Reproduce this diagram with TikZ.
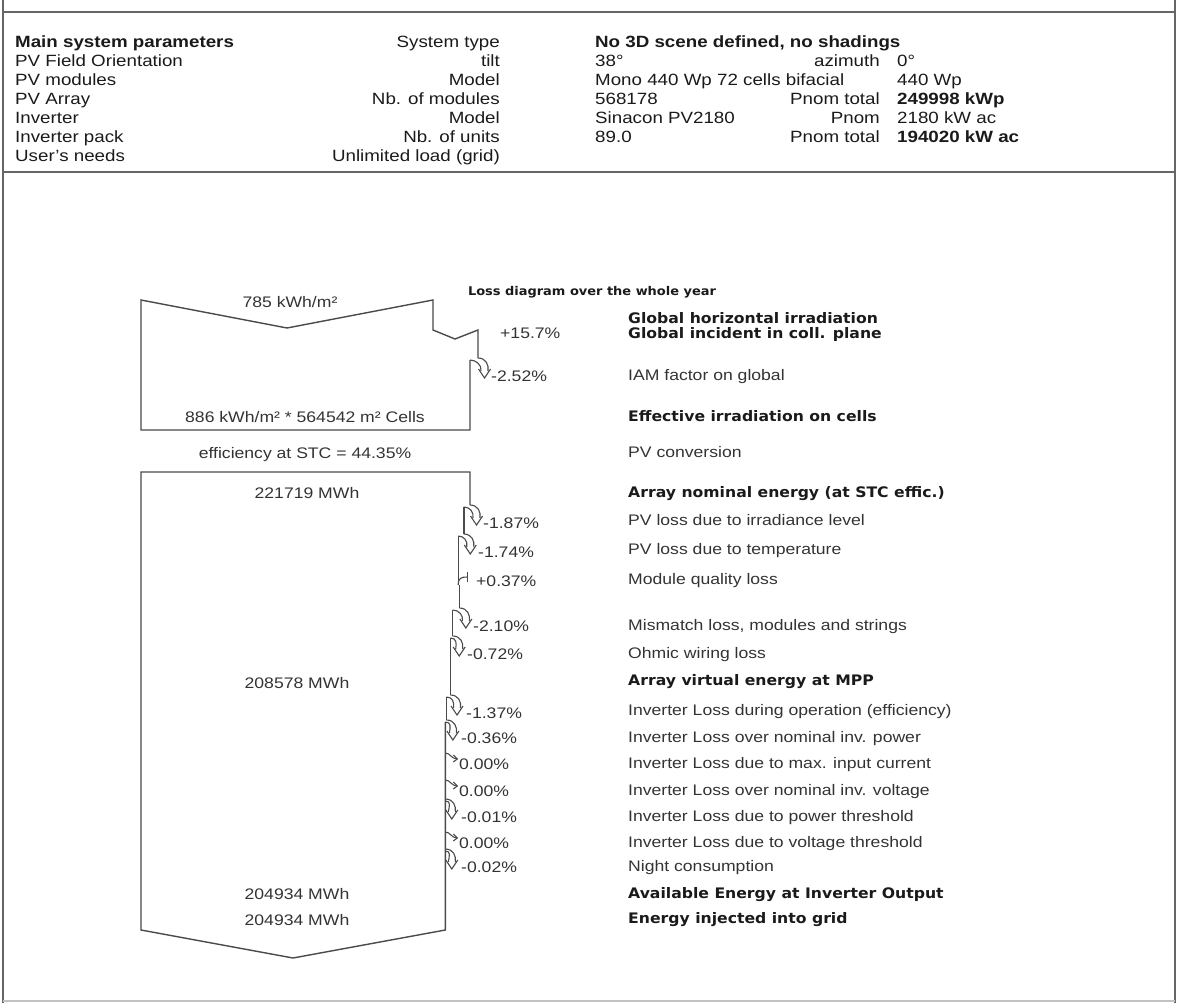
\documentclass[tikz,border=0pt]{standalone}
\usepackage{fontspec}
\setmainfont{Liberation Sans}[FakeStretch=1.15]
\newfontfamily\dvs{DejaVu Sans}[FakeStretch=1.08]
\definecolor{txt}{HTML}{1A1A1A}
\definecolor{ltxt}{HTML}{333333}
\definecolor{ln}{HTML}{4A4A4A}
\definecolor{fr}{HTML}{666666}
\newcommand\losshook[3]{%
 \draw[hk] ({#1},{#3-17}) .. controls ({#1+8},{#3-17}) and ({#1+11},{#3-10}) .. ({#1+10},{#3-4});
 \draw[hk] ({#2},{#3-15}) .. controls ({#2+6},{#3-15}) and ({#1+4},{#3-10}) .. ({#1+3},{#3-4});
 \draw[hk] ({#1+12.5},{#3-6}) -- ({#1+6.5},{#3+3}) -- ({#1+0.5},{#3-6});
}
\newcommand\zerohook[2]{%
 \draw[hk] ({#1},{#2-10}) .. controls ({#1+5},{#2-10}) and ({#1+6},{#2-4}) .. ({#1+12},{#2-4});
 \draw[hk] ({#1+8},{#2-8}) -- ({#1+12},{#2-4}) -- ({#1+8},{#2-1});
}
\newcommand\gainhook[2]{%
 \draw[hk] ({#1},{#2+5}) .. controls ({#1},{#2-2}) and ({#1+3},{#2-3}) .. ({#1+9},{#2-3});
 \draw[hk] ({#1+9},{#2-8}) -- ({#1+9},{#2+2});
}
\begin{document}
\begin{tikzpicture}[x=1pt,y=-1pt,
  pl/.style={anchor=base west, inner sep=0pt, font=\fontsize{16.3}{19}\selectfont, text=txt},
  pr/.style={anchor=base east, inner sep=0pt, font=\fontsize{16.3}{19}\selectfont, text=txt},
  pb/.style={anchor=base west, inner sep=0pt, font=\fontsize{16.3}{19}\selectfont\bfseries, text=txt},
  lreg/.style={anchor=base west, inner sep=0pt, font=\fontsize{15.3}{18}\selectfont, text=ltxt},
  lbold/.style={anchor=base west, inner sep=0pt, font=\dvs\bfseries\fontsize{14.5}{17}\selectfont, text=txt},
  ltitle/.style={anchor=base, inner sep=0pt, font=\dvs\bfseries\fontsize{12}{14}\selectfont, text=txt},
  boxtxt/.style={anchor=base, inner sep=0pt, font=\fontsize{15.3}{18}\selectfont, text=ltxt},
  band/.style={draw=ln, line width=1.4pt, line join=miter},
  frame/.style={draw=fr, line width=1.4pt},
  hk/.style={draw=ln, line width=1.1pt}
]
\useasboundingbox (0,0) rectangle (1178,1003);
% frame
\draw[frame] (3,0) -- (3,1003);
\draw[frame] (1175,0) -- (1175,1003);
\draw[frame] (3,12) -- (1175,12);
\draw[frame] (3,172) -- (1175,172);
\draw[draw=fr!40, line width=1.2pt] (3,1001) -- (1175,1001);

% parameters
\node[pb] (h0) at (15,48) {Main system parameters};
\node[pl] (h1) at (15,67) {PV Field Orientation};
\node[pl] (h2) at (15,86) {PV modules};
\node[pl] (h3) at (15,105) {PV Array};
\node[pl] (h4) at (15,124) {Inverter};
\node[pl] (h5) at (15,143) {Inverter pack};
\node[pl] (h6) at (15,162) {User's needs};

\node[pr] (k0) at (500,48) {System type};
\node[pr] (k1) at (500,67) {tilt};
\node[pr] (k2) at (500,86) {Model};
\node[pr] (k3) at (500,105) {Nb. of modules};
\node[pr] (k4) at (500,124) {Model};
\node[pr] (k5) at (500,143) {Nb. of units};
\node[pr] (k6) at (500,162) {Unlimited load (grid)};

\node[pb] (v0) at (595,48) {No 3D scene defined, no shadings};
\node[pl] (v1) at (595,67) {38°};
\node[pl] (v2) at (595,86) {Mono 440 Wp 72 cells bifacial};
\node[pl] (v3) at (595,105) {568178};
\node[pl] (v4) at (595,124) {Sinacon PV2180};
\node[pl] (v5) at (595,143) {89.0};

\node[pr] (q1) at (880,67) {azimuth};
\node[pr] (q3) at (880,105) {Pnom total};
\node[pr] (q4) at (880,124) {Pnom};
\node[pr] (q5) at (880,143) {Pnom total};

\node[pl] (w1) at (897,67) {0°};
\node[pl] (w2) at (897,86) {440 Wp};
\node[pb] (w3) at (897,105) {249998 kWp};
\node[pl] (w4) at (897,124) {2180 kW ac};
\node[pb] (w5) at (897,143) {194020 kW ac};

% loss diagram title
\node[ltitle] (title) at (592,295) {Loss diagram over the whole year};

% upper irradiation box
\draw[band] (478,358) -- (478,330) -- (455,339) -- (433,330) -- (433,300) -- (287,328) -- (141,300) -- (141,430) -- (470,430) -- (470,360);
\losshook{478}{470}{375}

% lower energy band
\draw[band] (470,505) -- (470,472) -- (141,472) -- (141,930) -- (293,958) -- (445.3,930) -- (445.3,722);
\draw[band] (463.8,507) -- (463.8,534);
\draw[band] (458.2,536) -- (458.2,585);
\draw[band] (459.4,585) -- (459.4,608);
\draw[band] (452.7,610) -- (452.7,636);
\draw[band] (450.5,638) -- (450.5,695);
\draw[band] (446.4,697) -- (446.4,720);
\losshook{470}{463.8}{522}
\losshook{463.8}{458.2}{551}
\gainhook{458.2}{580}
\losshook{459.4}{452.7}{625}
\losshook{452.7}{450.5}{653}
\losshook{450.5}{446.4}{712}
\losshook{446.4}{445.3}{737}
\zerohook{445.3}{763}
\zerohook{445.3}{790}
\losshook{445.3}{445.3}{816}
\zerohook{445.3}{842}
\losshook{445.3}{445.2}{866}

% box texts
\node[boxtxt] (b1) at (290,307) {785 kWh/m²};
\node[boxtxt] (b2) at (305,422) {886 kWh/m² * 564542 m² Cells};
\node[boxtxt] (b3) at (305,458) {efficiency at STC = 44.35\%};
\node[boxtxt] (b4) at (307,498) {221719 MWh};
\node[boxtxt] (b5) at (297,688) {208578 MWh};
\node[boxtxt] (b6) at (297,899) {204934 MWh};
\node[boxtxt] (b7) at (297,925) {204934 MWh};

% percentages
\node[lreg] (p1) at (500,338) {+15.7\%};
\node[lreg] (p2) at (491,381) {-2.52\%};
\node[lreg] (p3) at (483,528) {-1.87\%};
\node[lreg] (p4) at (478,557) {-1.74\%};
\node[lreg] (p5) at (476,586) {+0.37\%};
\node[lreg] (p6) at (473,631) {-2.10\%};
\node[lreg] (p7) at (467,659) {-0.72\%};
\node[lreg] (p8) at (466,718) {-1.37\%};
\node[lreg] (p9) at (461,743) {-0.36\%};
\node[lreg] (p10) at (459,769) {0.00\%};
\node[lreg] (p11) at (459,796) {0.00\%};
\node[lreg] (p12) at (461,822) {-0.01\%};
\node[lreg] (p13) at (459,848) {0.00\%};
\node[lreg] (p14) at (461,872) {-0.02\%};

% labels
\node[lbold] (l1) at (628,323.5) {Global horizontal irradiation};
\node[lbold] (l2) at (628,338.5) {Global incident in coll. plane};
\node[lreg] (l3) at (628,380.5) {IAM factor on global};
\node[lbold] (l4) at (628,421.5) {Effective irradiation on cells};
\node[lreg] (l5) at (628,457.5) {PV conversion};
\node[lbold] (l6) at (628,497.5) {Array nominal energy (at STC effic.)};
\node[lreg] (l7) at (628,525.5) {PV loss due to irradiance level};
\node[lreg] (l8) at (628,554.5) {PV loss due to temperature};
\node[lreg] (l9) at (628,584.5) {Module quality loss};
\node[lreg] (l10) at (628,630.5) {Mismatch loss, modules and strings};
\node[lreg] (l11) at (628,658.5) {Ohmic wiring loss};
\node[lbold] (l12) at (628,685.5) {Array virtual energy at MPP};
\node[lreg] (l13) at (628,715.5) {Inverter Loss during operation (efficiency)};
\node[lreg] (l14) at (628,742.5) {Inverter Loss over nominal inv. power};
\node[lreg] (l15) at (628,768.5) {Inverter Loss due to max. input current};
\node[lreg] (l16) at (628,795.5) {Inverter Loss over nominal inv. voltage};
\node[lreg] (l17) at (628,821.5) {Inverter Loss due to power threshold};
\node[lreg] (l18) at (628,847.5) {Inverter Loss due to voltage threshold};
\node[lreg] (l19) at (628,871.5) {Night consumption};
\node[lbold] (l20) at (628,898.5) {Available Energy at Inverter Output};
\node[lbold] (l21) at (628,923.5) {Energy injected into grid};
\end{tikzpicture}
\end{document}
